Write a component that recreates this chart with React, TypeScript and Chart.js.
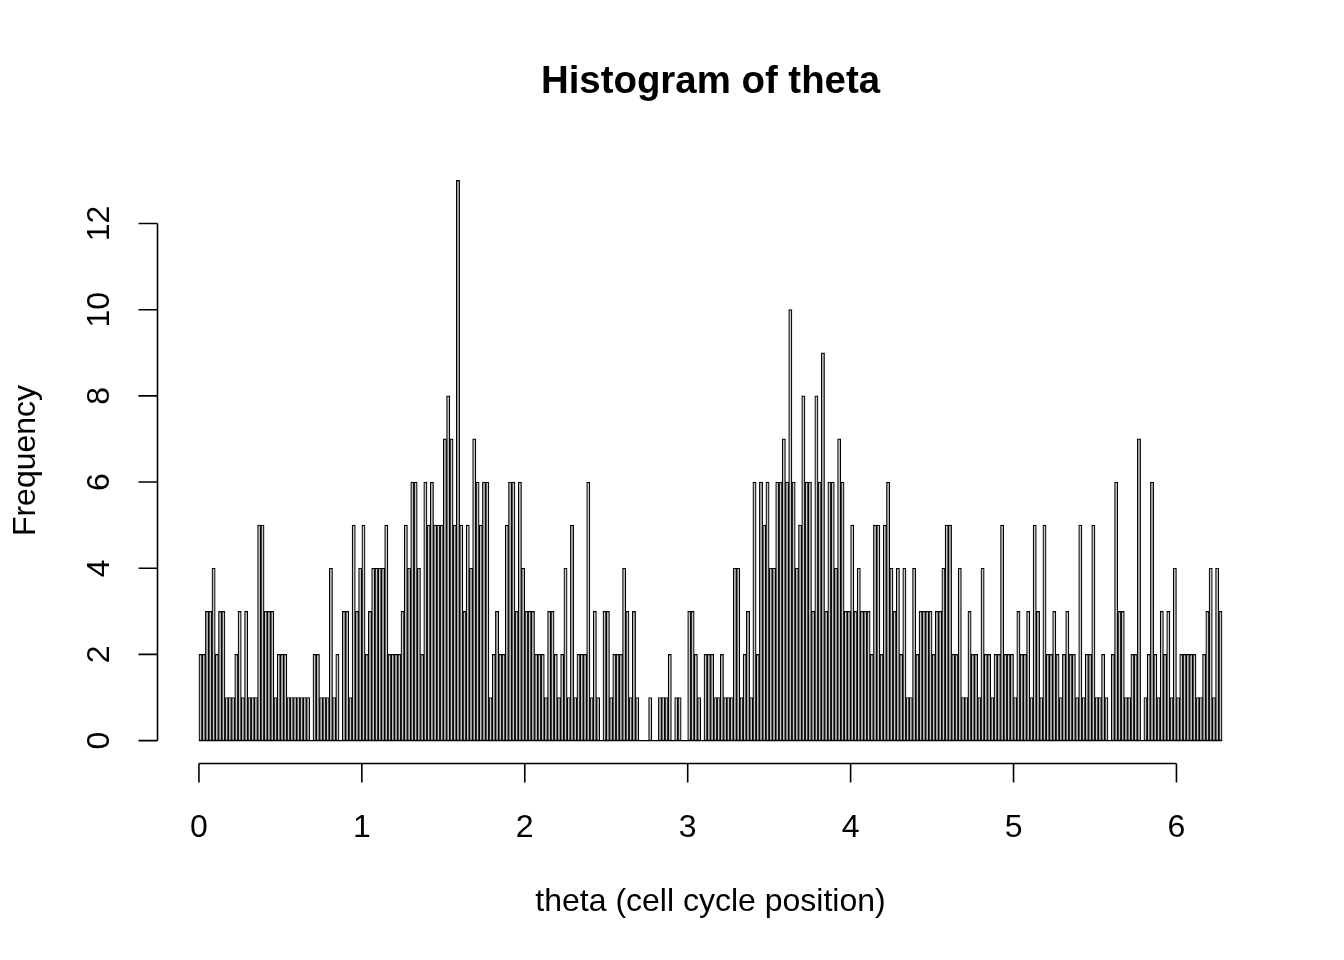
import React, { useEffect, useRef } from "react";
import { Chart, registerables } from "chart.js";

Chart.register(...registerables);

const chartTitle = "Histogram of theta";
const xTitle = "theta (cell cycle position)";
const yTitle = "Frequency";

const binStart = 0;
const binWidth = 0.02;

// Frequencies for consecutive bins of width 0.02 starting at 0
const counts: number[] = [
  2, 2, 3, 3, 4, 2, 3, 3, 1, 1, 1, 2, 3, 1, 3, 1, 1, 1, 5, 5,
  3, 3, 3, 1, 2, 2, 2, 1, 1, 1, 1, 1, 1, 1, 0, 2, 2, 1, 1, 1,
  4, 1, 2, 0, 3, 3, 1, 5, 3, 4, 5, 2, 3, 4, 4, 4, 4, 5, 2, 2,
  2, 2, 3, 5, 4, 6, 6, 4, 2, 6, 5, 6, 5, 5, 5, 7, 8, 7, 5, 13,
  5, 3, 5, 4, 7, 6, 5, 6, 6, 1, 2, 3, 2, 2, 5, 6, 6, 3, 6, 4,
  3, 3, 3, 2, 2, 2, 1, 3, 3, 2, 1, 2, 4, 1, 5, 1, 2, 2, 2, 6,
  1, 3, 1, 0, 3, 3, 1, 2, 2, 2, 4, 3, 1, 3, 1, 0, 0, 0, 1, 0,
  0, 1, 1, 1, 2, 0, 1, 1, 0, 0, 3, 3, 2, 1, 0, 2, 2, 2, 1, 1,
  2, 1, 1, 1, 4, 4, 1, 2, 3, 1, 6, 2, 6, 5, 6, 4, 4, 6, 6, 7,
  6, 10, 6, 4, 5, 8, 6, 6, 3, 8, 6, 9, 3, 6, 6, 4, 7, 6, 3, 3,
  5, 3, 4, 3, 3, 3, 2, 5, 5, 2, 5, 6, 4, 3, 4, 2, 4, 1, 1, 4,
  2, 3, 3, 3, 3, 2, 3, 3, 4, 5, 5, 2, 2, 4, 1, 1, 3, 2, 2, 1,
  4, 2, 2, 1, 2, 2, 5, 2, 2, 2, 1, 3, 2, 2, 3, 1, 5, 3, 1, 5,
  2, 2, 3, 2, 1, 2, 3, 2, 2, 1, 5, 1, 2, 2, 5, 1, 1, 2, 1, 0,
  2, 6, 3, 3, 1, 1, 2, 2, 7, 0, 1, 2, 6, 2, 1, 3, 2, 3, 1, 4,
  1, 2, 2, 2, 2, 2, 1, 1, 2, 3, 4, 1, 4, 3,
];

const xTicks: number[] = [0, 1, 2, 3, 4, 5, 6];
const yTicks: number[] = [0, 2, 4, 6, 8, 10, 12];
const yMaxData = 13;

const FONT = '"Liberation Sans", Arial, Helvetica, sans-serif';

export default function App() {
  const ref = useRef<HTMLCanvasElement | null>(null);

  useEffect(() => {
    const canvas = ref.current;
    if (!canvas) return;

    const binEnd = binStart + counts.length * binWidth;
    const xPad = (binEnd - binStart) * 0.04;
    const yPad = yMaxData * 0.04;

    const points = counts.map((c, i) => ({
      x: binStart + (i + 0.5) * binWidth,
      y: c,
    }));

    const rAxes = {
      id: "rAxes",
      afterDatasetsDraw(chart: any) {
        const ctx = chart.ctx as CanvasRenderingContext2D;
        const xs = chart.scales.x;
        const ys = chart.scales.y;
        const area = chart.chartArea;
        ctx.save();
        ctx.strokeStyle = "#000";
        ctx.fillStyle = "#000";

        // baseline of histogram rectangles
        ctx.lineWidth = 1.2;
        const y0 = ys.getPixelForValue(0);
        ctx.beginPath();
        ctx.moveTo(xs.getPixelForValue(binStart), y0);
        ctx.lineTo(xs.getPixelForValue(binEnd), y0);
        ctx.stroke();

        ctx.lineWidth = 1.6;
        const tickLen = 19;

        // x axis
        const ax = Math.round(area.bottom) + 0.5;
        ctx.beginPath();
        ctx.moveTo(xs.getPixelForValue(xTicks[0]), ax);
        ctx.lineTo(xs.getPixelForValue(xTicks[xTicks.length - 1]), ax);
        for (const t of xTicks) {
          const px = xs.getPixelForValue(t);
          ctx.moveTo(px, ax);
          ctx.lineTo(px, ax + tickLen);
        }
        ctx.stroke();

        ctx.font = `32px ${FONT}`;
        ctx.textAlign = "center";
        ctx.textBaseline = "alphabetic";
        for (const t of xTicks) {
          ctx.fillText(String(t), xs.getPixelForValue(t), 837);
        }

        // y axis
        const ay = Math.round(area.left) - 0.5;
        ctx.beginPath();
        ctx.moveTo(ay, ys.getPixelForValue(yTicks[0]));
        ctx.lineTo(ay, ys.getPixelForValue(yTicks[yTicks.length - 1]));
        for (const t of yTicks) {
          const py = ys.getPixelForValue(t);
          ctx.moveTo(ay, py);
          ctx.lineTo(ay - tickLen, py);
        }
        ctx.stroke();

        for (const t of yTicks) {
          const py = ys.getPixelForValue(t);
          ctx.save();
          ctx.translate(109, py);
          ctx.rotate(-Math.PI / 2);
          ctx.fillText(String(t), 0, 0);
          ctx.restore();
        }

        // axis titles
        const cx = (area.left + area.right) / 2;
        const cy = (area.top + area.bottom) / 2;
        ctx.fillText(xTitle, cx, 911);
        ctx.save();
        ctx.translate(35, cy);
        ctx.rotate(-Math.PI / 2);
        ctx.fillText(yTitle, 0, 0);
        ctx.restore();

        // main title
        ctx.font = `bold 38.4px ${FONT}`;
        ctx.fillText(chartTitle, cx, 93);

        ctx.restore();
      },
    };

    const chart = new Chart(canvas, {
      type: "bar",
      data: {
        datasets: [
          {
            data: points as any,
            backgroundColor: "#c8c8c8",
            borderColor: "#000000",
            borderWidth: 1.2,
            borderSkipped: false,
            barPercentage: 1,
            categoryPercentage: 1,
          },
        ],
      },
      options: {
        animation: false,
        responsive: true,
        maintainAspectRatio: false,
        devicePixelRatio: 1,
        layout: { padding: { left: 158, right: 81, top: 158, bottom: 197 } },
        plugins: {
          legend: { display: false },
          tooltip: { enabled: false },
          title: { display: false },
        },
        scales: {
          x: {
            type: "linear",
            min: binStart - xPad,
            max: binEnd + xPad,
            display: false,
            offset: false,
          },
          y: {
            type: "linear",
            min: -yPad,
            max: yMaxData + yPad,
            display: false,
          },
        },
      },
      plugins: [rAxes],
    });

    return () => chart.destroy();
  }, []);

  return (
    <div
      style={{
        position: "fixed",
        left: 0,
        top: 0,
        width: 1344,
        height: 960,
        background: "#ffffff",
      }}
    >
      <canvas ref={ref} />
    </div>
  );
}
